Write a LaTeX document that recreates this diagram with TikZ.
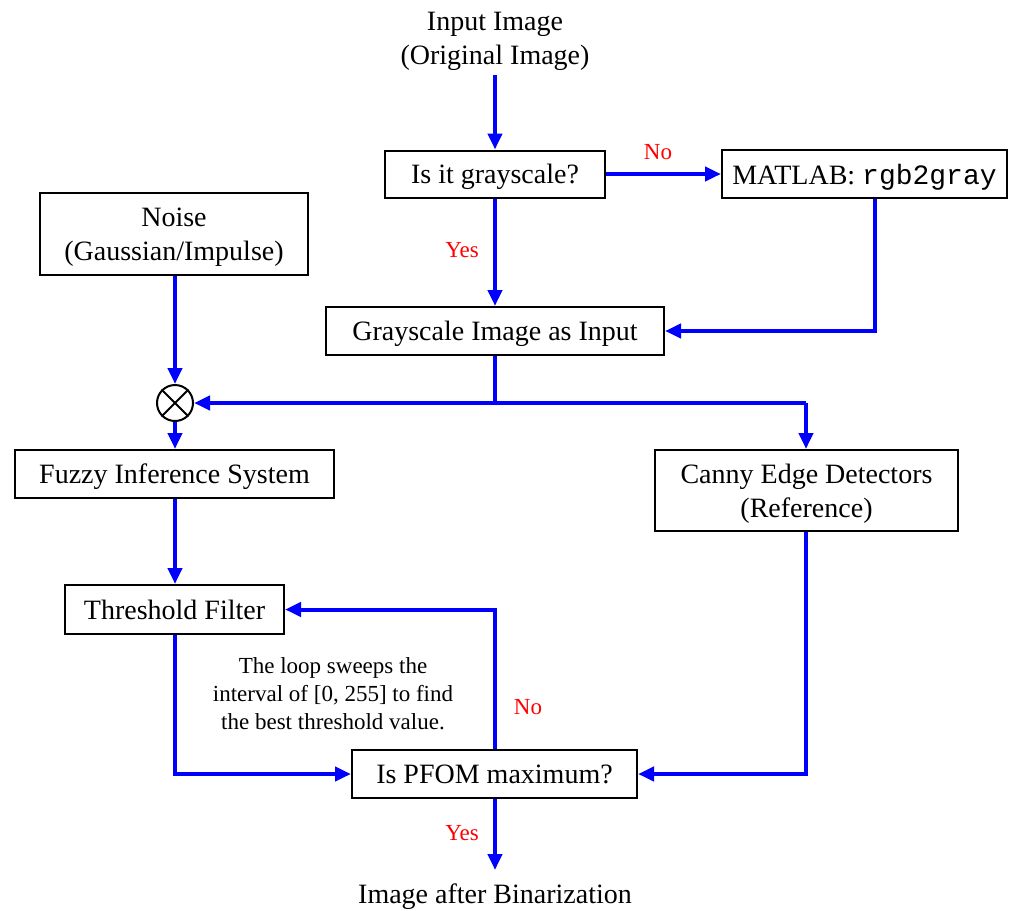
\documentclass[tikz,border=0pt]{standalone}
\usepackage{fontspec}
\setmainfont{Liberation Serif}
\setmonofont{Liberation Mono}
\usetikzlibrary{arrows.meta}
\definecolor{fblue}{RGB}{0,0,255}
\definecolor{fred}{RGB}{255,0,0}
\begin{document}
\begin{tikzpicture}[x=0.5pt,y=-0.5pt,
  box/.style={draw=black,line width=1pt,inner sep=0pt,align=center,text depth=0pt,font=\fontsize{14}{17}\selectfont},
  txt/.style={inner sep=0pt,align=center,font=\fontsize{14}{17}\selectfont},
  lbl/.style={inner sep=0pt,text=fred,font=\fontsize{11.5}{14}\selectfont},
  note/.style={inner sep=0pt,align=center,font=\fontsize{11.5}{14}\selectfont},
  flow/.style={draw=fblue,line width=2pt},
  arr/.style={flow,-{Triangle[length=8pt,width=7pt]}}]
\useasboundingbox (0,0) rectangle (1029,911);
\node[txt] (in) at (495,41) {Input Image\\(Original Image)};
\node[box,minimum width=110pt,minimum height=23.5pt] (gray) at (495,174) {Is it grayscale?};
\node[box,minimum width=142.5pt,minimum height=24pt] (mat) at (864.5,174) {MATLAB: \texttt{rgb2gray}};
\node[box,minimum width=169pt,minimum height=24pt] (gin) at (495,331) {Grayscale Image as Input};
\node[box,minimum width=134pt,minimum height=41pt] (noise) at (174,234) {Noise\\(Gaussian/Impulse)};
\node[draw=black,line width=1pt,circle,minimum size=18pt,inner sep=0pt] (sum) at (175,403) {};
\draw[line width=1pt] (sum.45) -- (sum.225) (sum.135) -- (sum.315);
\node[box,minimum width=159.5pt,minimum height=24pt] (fuzzy) at (174.5,474) {Fuzzy Inference System};
\node[box,minimum width=151.5pt,minimum height=40.5pt] (canny) at (806.5,490.5) {Canny Edge Detectors\\(Reference)};
\node[box,minimum width=109.5pt,minimum height=24.5pt] (thr) at (174.5,609.5) {Threshold Filter};
\node[box,minimum width=142.5pt,minimum height=24pt] (pfom) at (494.5,774) {Is PFOM maximum?};
\node[txt] (out) at (495,897) {Image after Binarization};
\node[note] (loop) at (333,694) {The loop sweeps the\\interval of [0, 255] to find\\the best threshold value.};
\node[lbl] (no1) at (658,152) {No};
\node[lbl] (yes1) at (462,250) {Yes};
\node[lbl] (no2) at (528,707) {No};
\node[lbl] (yes2) at (462,833) {Yes};
\coordinate (inb) at (495,75);
\coordinate (j1) at (495,403);
\coordinate (j2) at (806,403);
\coordinate (outt) at (495,870);
\draw[arr] (inb) -- (gray.north);
\draw[arr] (gray.east) -- (mat.west);
\draw[arr] (gray.south) -- (gin.north);
\draw[arr] (mat.south -| 875,0) |- (gin.east);
\draw[arr] (noise.south -| sum.north) -- (sum.north);
\draw[flow] (gin.south) -- (j1);
\draw[arr] (j2) -- (sum.east);
\draw[arr] (j2) -- (canny.north -| j2);
\draw[arr] (sum.south) -- (fuzzy.north -| sum.south);
\draw[arr] (fuzzy.south -| sum.south) -- (thr.north -| sum.south);
\draw[arr] (thr.south -| sum.south) |- (pfom.west);
\draw[arr] (pfom.north -| j1) |- (thr.east);
\draw[arr] (canny.south -| j2) |- (pfom.east);
\draw[arr] (pfom.south -| j1) -- (outt);
\end{tikzpicture}
\end{document}
